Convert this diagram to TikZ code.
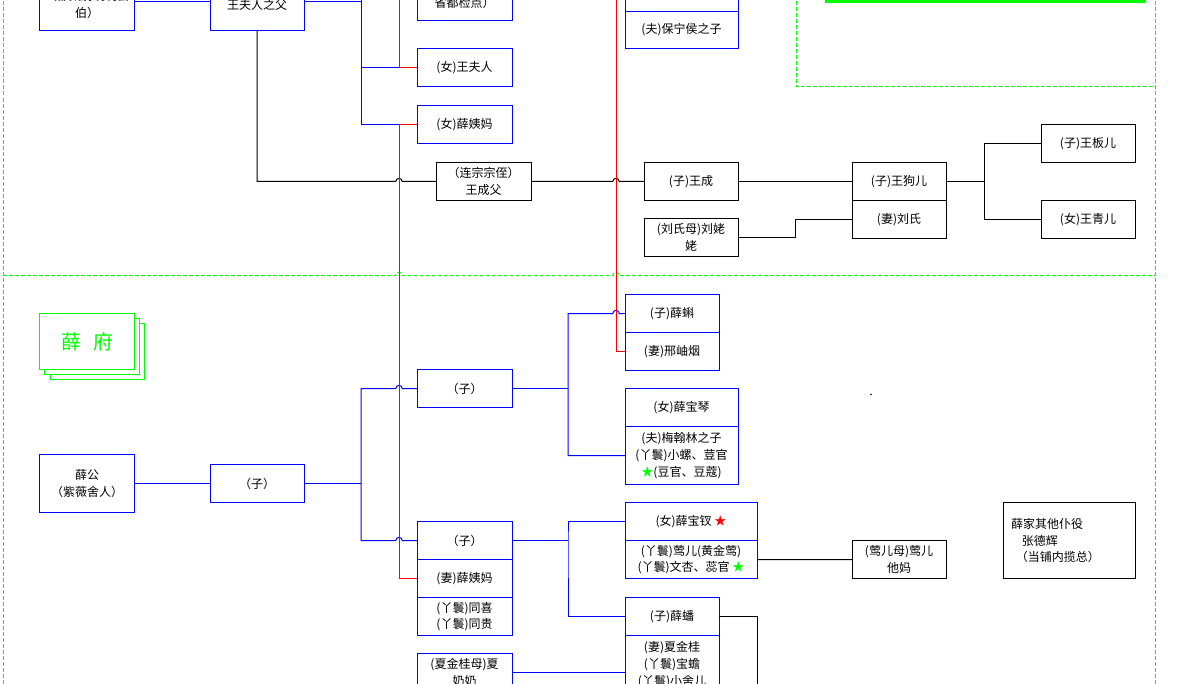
\documentclass[tikz,border=0pt]{standalone}
\usepackage{fontspec}
\setmainfont{Noto Sans CJK SC}
\usetikzlibrary{positioning, shadows}
\colorlet{accX}{blue}
\colorlet{wed}{red}
\colorlet{laneC}{green}
\tikzset{
  card/.style    ={draw, inner sep=3bp, outer sep=0pt, align=center,
                   line width=1bp, font=\fontsize{12bp}{16.7bp}\selectfont},
  boxsz/.style 2 args={minimum width=#1bp, minimum height=#2bp},
  Lxue/.style    ={card, draw=accX},
  Lwang/.style   ={card, draw=black},
  Lseal/.style   ={card, draw=laneC, fill=white, text=laneC,
                   font=\fontsize{20bp}{22bp}\selectfont,
                   copy shadow={shadow xshift=10bp, shadow yshift=-10bp,
                                draw=laneC, fill=white, line width=1bp},
                   copy shadow={shadow xshift=5bp, shadow yshift=-5bp,
                                draw=laneC, fill=white, line width=1bp}},
  xline/.style   ={-, accX, line width=1bp},
  wline/.style   ={-, black, line width=1bp},
  marry/.style   ={-, wed, line width=1bp},
  laneline/.style={laneC, line width=1bp, dash pattern=on 4bp off 2bp},
}

\begin{document}
\begin{tikzpicture}[x=1bp, y=-1bp]
\useasboundingbox (0,-0.5) rectangle (1179,683.5);

% lanes
\fill[laneC] (825,-0.5) rectangle (1146,2.5);
\draw[laneline] (3,-5) -- (3,690);
\draw[laneline] (1155,-5) -- (1155,690);
\draw[laneline] (796,-5) -- (796,86) -- (1155,86);
\coordinate (gA) at (399,275);
\coordinate (gB) at (616,275);
\draw[laneline] (3,275) -- ([xshift=-3.2bp]gA) arc[start angle=180, end angle=0, radius=3.2bp]
  -- ([xshift=-3.2bp]gB) arc[start angle=180, end angle=0, radius=3.2bp] -- (1155,275);

% Wang family
\node[Lxue, boxsz={94}{58}] (dutaiwei) at (87,1) {\mbox{}\\（都太尉统制县\\伯）};
\node[Lxue, boxsz={94}{58}] (wfather) at (257,1) {\mbox{}\\王夫人之父};
\node[Lxue, boxsz={95}{58}] (shengdu) at (464.5,-9) {\mbox{}\\\mbox{}\\省都检点）};
\node[Lxue, boxsz={95}{38}] (wangfuren) at (464.5,67) {(女)王夫人};
\node[Lxue, boxsz={95}{38}] (yima) at (464.5,124) {(女)薛姨妈};
\node[Lxue, boxsz={113}{37}] (baoning) at (681.5,29.5) {(夫)保宁侯之子};
\node[Lxue, boxsz={113}{38}, above=0pt of baoning] (wgirl) {};

\node[Lwang, boxsz={95}{38}] (lianzong) at (483.5,181) {（连宗宗侄）\\王成父};
\node[Lwang, boxsz={94}{38}] (wangcheng) at (691,181) {(子)王成};
\node[Lwang, boxsz={94}{38}] (liulaolao) at (691,237) {(刘氏母)刘姥\\姥};
\node[Lwang, boxsz={94}{38}] (gouer) at (899,181) {(子)王狗儿};
\node[Lwang, boxsz={94}{38}, below=0pt of gouer] (liushi) {(妻)刘氏};
\node[Lwang, boxsz={94}{38}] (baner) at (1088,143) {(子)王板儿};
\node[Lwang, boxsz={94}{38}] (qinger) at (1088,219) {(女)王青儿};

\coordinate (wtrunk) at (361,-9);
\draw[xline] (dutaiwei.east) -- (wfather.west);
\draw[xline] (shengdu.west) -- (wtrunk) |- (yima.west);
\draw[xline] (wfather.east) -- (wfather.east -| wtrunk);
\draw[xline] (wangfuren.west) -- (wangfuren.west -| wtrunk);

\coordinate (hA) at (399,181);
\coordinate (hB) at (616,181);
\draw[wline] (wfather.south) |- ([xshift=-3.2bp]hA) arc[start angle=180, end angle=0, radius=3.2bp]
  -- (lianzong.west);
\draw[wline] (lianzong.east) -- ([xshift=-3.2bp]hB) arc[start angle=180, end angle=0, radius=3.2bp]
  -- (wangcheng.west);
\draw[wline] (wangcheng.east) -- (gouer.west);
\draw[wline] (liulaolao.east) -- ++(57,0) |- (liushi.west);
\draw[wline] (gouer.east) -- ++(38,0) coordinate (gfork);
\draw[wline] (baner.west) -| (gfork) |- (qinger.west);

% Xue family
\node[Lseal, boxsz={94}{56}] (xuefu) at (87,341) {薛\hspace{12bp}府};
\node[Lxue, boxsz={94}{58}] (xuegong) at (87,483) {薛公\\（紫薇舍人）};
\node[Lxue, boxsz={94}{38}] (zi1) at (257,483) {（子）};
\node[Lxue, boxsz={95}{38}] (zi2) at (464.5,388) {（子）};
\node[Lxue, boxsz={94}{38}] (xueke) at (672,313) {(子)薛蝌};
\node[Lxue, boxsz={94}{38}, below=0pt of xueke] (xiuyan) {(妻)邢岫烟};
\node[Lxue, boxsz={113}{38}] (baoqin) at (681.5,407) {(女)薛宝琴};
\node[Lxue, boxsz={113}{58}, below=0pt of baoqin] (baoqin2)
  {(夫)梅翰林之子\\(丫鬟)小螺、荳官\\{\color{laneC}★}(豆官、豆蔻)};
\node[Lxue, boxsz={95}{38}] (zi3) at (464.5,540) {（子）};
\node[Lxue, boxsz={95}{38}, below=0pt of zi3] (yima2) {(妻)薛姨妈};
\node[Lxue, boxsz={95}{38}, below=0pt of yima2] (tongxi) {(丫鬟)同喜\\(丫鬟)同贵};
\node[Lxue, boxsz={132}{38}] (baochai) at (691,521) {(女)薛宝钗 {\color{wed}★}};
\node[Lxue, boxsz={132}{38}, below=0pt of baochai] (yinger)
  {(丫鬟)莺儿(黄金莺)\\(丫鬟)文杏、蕊官 {\color{laneC}★}};
\node[Lxue, boxsz={94}{38}] (xuepan) at (672,616) {(子)薛蟠};
\node[Lxue, boxsz={94}{58}, below=0pt of xuepan] (jingui)
  {(妻)夏金桂\\(丫鬟)宝蟾\\(丫鬟)小舍儿};
\node[Lxue, boxsz={95}{38}] (xiamom) at (464.5,672) {(夏金桂母)夏\\奶奶};
\node[Lwang, boxsz={94}{38}] (yingma) at (899,559) {(莺儿母)莺儿\\他妈};
\node[Lwang, boxsz={132}{76}, align=left, text width=116bp] (puyi) at (1069,540)
  {薛家其他仆役\\\hspace*{0.9em}张德辉\\\hspace*{0.4em}（当铺内揽总）};
\fill (871,394) circle[radius=0.9bp];

\coordinate (xtrunk) at (361,483);
\coordinate (hC) at (399,388);
\coordinate (hD) at (399,540);
\coordinate (hE) at (616,313);
\draw[xline] (xuegong.east) -- (zi1.west);
\draw[xline] (zi1.east) -- (xtrunk);
\draw[xline] (zi3.west) -- ([xshift=3.2bp]hD) arc[start angle=0, end angle=180, radius=3.2bp]
  -| (xtrunk) |- ([xshift=-3.2bp]hC) arc[start angle=180, end angle=0, radius=3.2bp]
  -- (zi2.west);
\draw[xline] (zi2.east) -- ++(56,0) coordinate (kfork);
\draw[xline] (baoqin2.west) -| (kfork) |- ([xshift=-3.2bp]hE)
  arc[start angle=180, end angle=0, radius=3.2bp] -- (xueke.west);
\draw[xline] (zi3.east) -- ++(56,0) coordinate (cfork);
\draw[xline] (baochai.west) -| (cfork) |- (xuepan.west);
\draw[xline] (xiamom.east) -- (xiamom.east -| jingui.west);
\draw[wline] (yinger.east) -- (yingma.west);
\draw[wline] (xuepan.east) -- ++(38,0) -- ++(0,120);

% marriages
\draw[marry] (wangfuren.west) -- ++(-18,0) -- ++(0,-100);
\draw[marry] (yima.west) -- ++(-18,0) |- (yima2.west);
\draw[marry] (xiuyan.west) -- ++(-9,0) -- ++(0,-400);

\end{tikzpicture}
\end{document}
